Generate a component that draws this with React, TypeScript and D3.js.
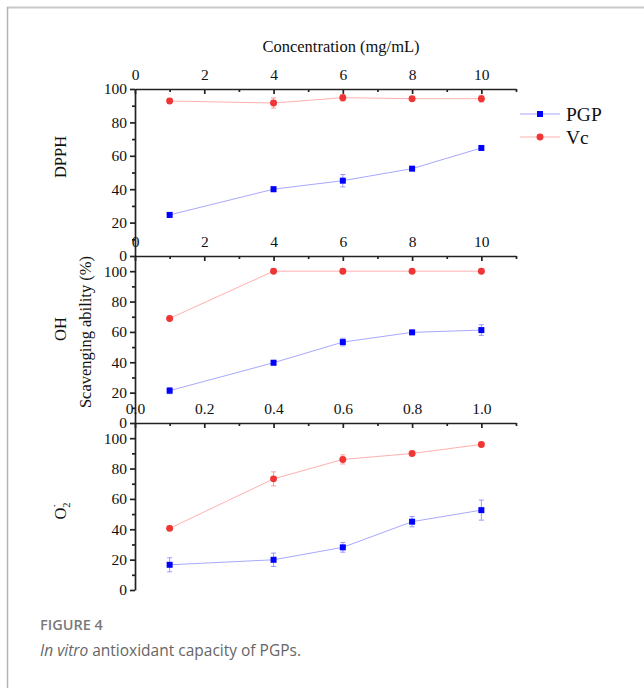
import React, { useEffect, useRef } from 'react';
import * as d3 from 'd3';

// concentrations
const concMg = [1, 4, 6, 8, 10];
const concO2 = [0.1, 0.4, 0.6, 0.8, 1.0];

// DPPH scavenging (%)
const dpphPGP = [24.6, 40, 45.1, 52.3, 64.7];
const dpphPGPErr = [1.5, 1.5, 3.7, 1, 1.2];
const dpphVc = [92.8, 91.6, 94.8, 94.2, 94.2];
const dpphVcErr = [1.5, 3, 2, 1, 2];

// OH scavenging (%)
const ohPGP = [21.3, 39.7, 53.3, 59.7, 61.2];
const ohPGPErr = [2, 1.5, 2.5, 1, 3.5];
const ohVc = [68.9, 100, 100, 100, 100];
const ohVcErr = [0.8, 0.5, 0.5, 0.5, 0.5];

// O2- scavenging (%)
const o2PGP = [16.6, 19.9, 28.1, 45, 52.6];
const o2PGPErr = [4.6, 4.4, 3.2, 3.4, 6.6];
const o2Vc = [40.6, 73.2, 86, 89.9, 95.9];
const o2VcErr = [1.5, 4.6, 3, 1, 1];

const mgTicks = [0, 2, 4, 6, 8, 10];
const mgMinor = [1, 3, 5, 7, 9, 11];
const o2Ticks = [0, 0.2, 0.4, 0.6, 0.8, 1.0];
const o2Minor = [0.1, 0.3, 0.5, 0.7, 0.9, 1.1];
const yTicks = [0, 20, 40, 60, 80, 100];
const yMinor = [10, 30, 50, 70, 90];

const W = 644;
const H = 688;
const serif = '"Liberation Serif", "Times New Roman", serif';
const axisColor = '#222';

const App = () => {
  const svgRef = useRef(null);

  useEffect(() => {
    document.body.style.margin = '0';
    const svg = d3.select(svgRef.current);
    svg.selectAll('*').remove();

    // frame
    svg.append('line').attr('x1', 7).attr('x2', W).attr('y1', 7.5).attr('y2', 7.5)
      .attr('stroke', '#c8c8c8').attr('stroke-width', 2);
    svg.append('line').attr('x1', 7.5).attr('x2', 7.5).attr('y1', 7).attr('y2', H)
      .attr('stroke', '#b4b4b4').attr('stroke-width', 1.5);

    const xMg = d3.scaleLinear().domain([0, 11]).range([135, 516]);
    const xO2 = d3.scaleLinear().domain([0, 1.1]).range([135, 516]);

    const panels = [
      { x: xMg, y: d3.scaleLinear().domain([0, 100]).range([256, 89]), xs: concMg,
        ticks: mgTicks, minor: mgMinor, fmt: d3.format('d'),
        pgp: dpphPGP, pgpErr: dpphPGPErr, vc: dpphVc, vcErr: dpphVcErr },
      { x: xMg, y: d3.scaleLinear().domain([0, 110]).range([423, 256]), xs: concMg,
        ticks: mgTicks, minor: mgMinor, fmt: d3.format('d'),
        pgp: ohPGP, pgpErr: ohPGPErr, vc: ohVc, vcErr: ohVcErr },
      { x: xO2, y: d3.scaleLinear().domain([0, 110]).range([590, 423]), xs: concO2,
        ticks: o2Ticks, minor: o2Minor, fmt: d3.format('.1f'),
        pgp: o2PGP, pgpErr: o2PGPErr, vc: o2Vc, vcErr: o2VcErr },
    ];

    const styleAxis = (g) => {
      g.selectAll('path, line').attr('stroke', axisColor).attr('stroke-width', 1.7);
      g.selectAll('text').attr('fill', '#111').attr('font-family', serif).attr('font-size', 15.5);
    };

    panels.forEach((p) => {
      const top = p.y.range()[1];
      const left = p.x.range()[0];

      // top axis (ticks point into plot)
      svg.append('g').attr('transform', `translate(0,${top})`)
        .call(d3.axisTop(p.x).tickValues(p.ticks).tickFormat(p.fmt)
          .tickSizeInner(-5).tickSizeOuter(0).tickPadding(9))
        .call(styleAxis);
      svg.append('g').attr('transform', `translate(0,${top})`)
        .call(d3.axisTop(p.x).tickValues(p.minor).tickFormat(() => '')
          .tickSizeInner(-3).tickSizeOuter(0))
        .call(styleAxis)
        .call((g) => g.select('.domain').remove());

      // left axis
      svg.append('g').attr('transform', `translate(${left},0)`)
        .call(d3.axisLeft(p.y).tickValues(yTicks).tickFormat(d3.format('d'))
          .tickSizeInner(5).tickSizeOuter(0).tickPadding(3))
        .call(styleAxis);
      svg.append('g').attr('transform', `translate(${left},0)`)
        .call(d3.axisLeft(p.y).tickValues(yMinor).tickFormat(() => '')
          .tickSizeInner(3).tickSizeOuter(0))
        .call(styleAxis)
        .call((g) => g.select('.domain').remove());

      const series = [
        { v: p.pgp, e: p.pgpErr, line: '#a8a8ff', mark: '#0000ff', err: '#9a9aff', shape: 'square' },
        { v: p.vc, e: p.vcErr, line: '#ffb0b0', mark: '#f03535', err: '#ff9a9a', shape: 'circle' },
      ];

      series.forEach((s) => {
        const pts = p.xs.map((xv, i) => ({ x: xv, y: s.v[i], e: s.e[i] }));
        svg.append('path').datum(pts)
          .attr('d', d3.line().x((d) => p.x(d.x)).y((d) => p.y(d.y)))
          .attr('fill', 'none').attr('stroke', s.line).attr('stroke-width', 1);

        const eb = svg.append('g').attr('stroke', s.err).attr('stroke-width', 1);
        pts.forEach((d) => {
          const cx = p.x(d.x);
          const y0 = p.y(d.y - d.e);
          const y1 = p.y(d.y + d.e);
          eb.append('line').attr('x1', cx).attr('x2', cx).attr('y1', y0).attr('y2', y1);
          eb.append('line').attr('x1', cx - 2.5).attr('x2', cx + 2.5).attr('y1', y0).attr('y2', y0);
          eb.append('line').attr('x1', cx - 2.5).attr('x2', cx + 2.5).attr('y1', y1).attr('y2', y1);
        });

        const sym = d3.symbol().type(s.shape === 'square' ? d3.symbolSquare : d3.symbolCircle)
          .size(s.shape === 'square' ? 36 : 38);
        svg.append('g').selectAll('path').data(pts).enter().append('path')
          .attr('transform', (d) => `translate(${p.x(d.x)},${p.y(d.y)})`)
          .attr('d', sym).attr('fill', s.mark);
      });
    });

    // title
    svg.append('text').attr('x', 341).attr('y', 52).attr('text-anchor', 'middle')
      .attr('font-family', serif).attr('font-size', 16.5).attr('fill', '#111')
      .text('Concentration (mg/mL)');

    // panel labels
    const vlabel = (x, y, txt) => svg.append('text')
      .attr('transform', `translate(${x},${y}) rotate(-90)`).attr('text-anchor', 'middle')
      .attr('font-family', serif).attr('font-size', 16.5).attr('fill', '#111').text(txt);
    vlabel(66, 157, 'DPPH');
    vlabel(66, 329, 'OH');
    vlabel(91, 332, 'Scavenging ability (%)');
    const o2 = svg.append('text')
      .attr('transform', 'translate(66,511) rotate(-90)').attr('text-anchor', 'middle')
      .attr('font-family', serif).attr('font-size', 16.5).attr('fill', '#111');
    o2.append('tspan').text('O');
    o2.append('tspan').attr('font-size', 10.5).attr('dy', 4).text('2');
    o2.append('tspan').attr('font-size', 10.5).attr('dy', -12).attr('dx', -5).text('·');

    // legend
    const legend = [
      { name: 'PGP', line: '#a8a8ff', mark: '#0000ff', type: d3.symbolSquare, size: 36 },
      { name: 'Vc', line: '#ffb0b0', mark: '#f03535', type: d3.symbolCircle, size: 38 },
    ];
    legend.forEach((l, i) => {
      const ly = 114 + i * 23;
      svg.append('line').attr('x1', 520).attr('x2', 560).attr('y1', ly).attr('y2', ly)
        .attr('stroke', l.line).attr('stroke-width', 1);
      svg.append('path').attr('transform', `translate(540,${ly})`)
        .attr('d', d3.symbol().type(l.type).size(l.size)).attr('fill', l.mark);
      svg.append('text').attr('x', 566).attr('y', ly + 6.5)
        .attr('font-family', serif).attr('font-size', 19.5).attr('fill', '#111').text(l.name);
    });

    // caption
    svg.append('text').attr('x', 40).attr('y', 630)
      .attr('font-family', '"Open Sans", sans-serif').attr('font-weight', 600)
      .attr('font-size', 14.5).attr('fill', '#7a7a7a').text('FIGURE 4');
    const cap = svg.append('text').attr('x', 40).attr('y', 656)
      .attr('font-family', '"Open Sans", sans-serif').attr('font-size', 15.5).attr('fill', '#666');
    cap.append('tspan').attr('font-style', 'italic').text('In vitro');
    cap.append('tspan').text(' antioxidant capacity of PGPs.');
  }, []);

  return <svg ref={svgRef} width={W} height={H} style={{ display: 'block', background: '#fff' }}></svg>;
};

export default App;
